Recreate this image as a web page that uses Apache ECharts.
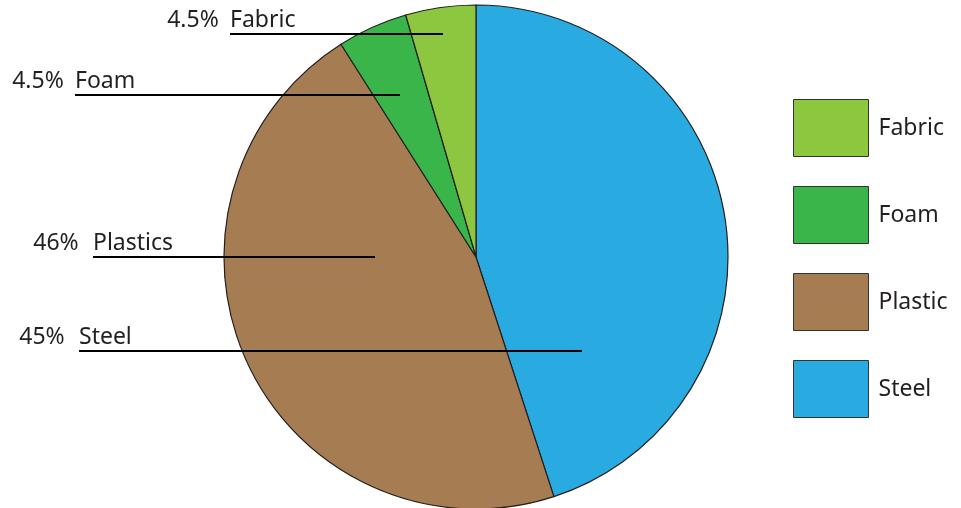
<!DOCTYPE html>
<html>
<head>
<meta charset="utf-8">
<script src="https://cdn.jsdelivr.net/npm/echarts@6/dist/echarts.min.js"></script>
<style>html,body{margin:0;padding:0;background:#fff;}#c{width:961px;height:508px;}</style>
</head>
<body>
<div id="c"></div>
<script>
// Data (clockwise from top)
const categories = ['Steel', 'Plastic', 'Foam', 'Fabric'];
const labelNames = ['Steel', 'Plastics', 'Foam', 'Fabric'];
const values = [45, 46, 4.5, 4.5];
const legendOrder = ['Fabric', 'Foam', 'Plastic', 'Steel'];
const colors = ['#29ABE2', '#A67C52', '#39B54A', '#8DC63F'];

// label layout (style): [line y, line start x (name start), line end x]
const labelLayouts = [
  [351, 79, 582],
  [257, 93, 375],
  [95, 75, 400],
  [34, 230, 443]
];
const PCT_W = 68;

const pieData = categories.map((c, i) => ({ name: c, value: values[i] }));

const chart = echarts.init(document.getElementById('c'));
chart.setOption({
  animation: false,
  color: colors,
  legend: {
    data: legendOrder,
    orient: 'vertical',
    left: 793,
    top: 99,
    padding: 0,
    itemWidth: 75,
    itemHeight: 57,
    itemGap: 29,
    icon: 'rect',
    itemStyle: { borderColor: '#333', borderWidth: 1 },
    textStyle: { fontFamily: 'Noto Sans', fontSize: 23, color: '#231f20', padding: [0, 0, 0, 5] }
  },
  series: [{
    type: 'pie',
    center: [476, 257],
    radius: 252,
    startAngle: 90,
    clockwise: true,
    silent: true,
    z: 2,
    itemStyle: { borderColor: '#231f20', borderWidth: 1.2 },
    data: pieData,
    label: { show: false },
    labelLine: { show: false }
  }, {
    type: 'pie',
    center: [476, 257],
    radius: 252,
    startAngle: 90,
    clockwise: true,
    silent: true,
    z: 5,
    legendHoverLink: false,
    itemStyle: { color: 'rgba(0,0,0,0)', borderWidth: 0 },
    data: pieData,
    label: {
      show: true,
      formatter: p => '{p|' + p.value + '% }{n|' + labelNames[p.dataIndex] + '}',
      rich: {
        p: { fontFamily: 'Noto Sans', fontSize: 23, color: '#231f20', width: PCT_W, align: 'right' },
        n: { fontFamily: 'Noto Sans', fontSize: 23, color: '#231f20' }
      },
      lineHeight: 26
    },
    labelLine: { show: true, smooth: false, lineStyle: { color: '#000', width: 2 } },
    labelLayout: function (params) {
      const L = labelLayouts[params.dataIndex];
      return {
        x: L[1] - PCT_W,
        y: L[0] - 1,
        align: 'left',
        verticalAlign: 'bottom',
        labelLinePoints: [[L[2], L[0]], [(L[1] + L[2]) / 2, L[0]], [L[1], L[0]]]
      };
    }
  }]
});
</script>
</body>
</html>
